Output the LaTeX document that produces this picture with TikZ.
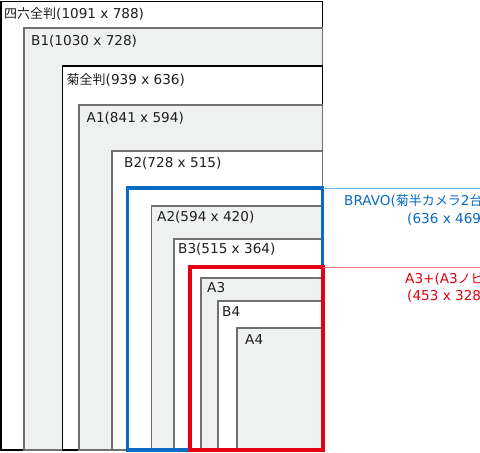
\documentclass[tikz,border=0pt]{standalone}
\usepackage{fontspec}
\setmainfont{DejaVu Sans}
\newfontfamily\jp{Noto Sans CJK JP}
\begin{document}
\begin{tikzpicture}[x=1pt,y=-1pt,
  grayfill/.style={fill=paperg,draw=edgeg,line width=1.8pt},
  whitefill/.style={fill=white,draw=edgeg,line width=1.8pt},
  blackbox/.style={fill=white,draw=black,line width=1.8pt},
  lbl/.style={anchor=west,inner sep=0pt,font=\fontsize{13.6}{15}\selectfont,text=black!88},
  rlbl/.style={anchor=west,inner sep=0pt,font=\fontsize{13.6}{15}\selectfont}]
\definecolor{paperg}{HTML}{EFF0F0}
\definecolor{edgeg}{HTML}{707070}
\definecolor{bravoblue}{HTML}{0A6BC4}
\definecolor{lightblue}{HTML}{6FB0E6}
\definecolor{a3red}{HTML}{E60012}
\definecolor{lightred}{HTML}{F07080}
\useasboundingbox (0,0) rectangle (480,453);
\clip (0,0) rectangle (480,453);
\fill[white] (0,0) rectangle (480,453);
% paper rectangles
\draw[blackbox]  (0.9,1.5)  rectangle (322.5,450);
\draw[grayfill]  (24,28)    rectangle (322.5,450);
\draw[blackbox]  (62.5,66)  rectangle (322.5,450);
\draw[grayfill]  (79,105)   rectangle (322.5,450);
\draw[whitefill] (112,151)  rectangle (322.5,450);
\draw[grayfill]  (151.5,206) rectangle (322.5,450);
\draw[whitefill] (174,239)  rectangle (322.5,450);
\draw[grayfill]  (201,278)  rectangle (322.5,450);
\draw[whitefill] (218,301)  rectangle (322.5,450);
\draw[grayfill]  (237,328)  rectangle (322.5,450);
% labels
\node[lbl] (l46)  at (4,13.8)    {{\jp\fontsize{13}{15}\selectfont 四六全判}(1091 x 788)};
\node[lbl] (lb1)  at (31,41.5) {B1(1030 x 728)};
\node[lbl] (lkiku) at (66.5,80)  {{\jp\fontsize{13}{15}\selectfont 菊全判}(939 x 636)};
\node[lbl] (la1)  at (86.5,118)  {A1(841 x 594)};
\node[lbl] (lb2)  at (124,163) {B2(728 x 515)};
\node[lbl] (la2)  at (157,217) {A2(594 x 420)};
\node[lbl] (lb3)  at (178,249) {B3(515 x 364)};
\node[lbl] (la3)  at (207,288) {A3};
\node[lbl] (lb4)  at (222,312) {B4};
\node[lbl] (la4)  at (245,340) {A4};
% highlighted frames
\coordinate (bravoNE) at (322.5,188);
\coordinate (bravoEnd) at (480,188);
\coordinate (redNE) at (322.5,267);
\coordinate (redEnd) at (480,267);
\draw[draw=bravoblue,line width=3.5pt] (127.5,188) rectangle (322.5,450);
\draw[draw=lightblue,line width=1pt] (bravoNE) -- (bravoEnd);
\draw[draw=a3red,line width=4pt] (190,267) rectangle (322.5,450);
\draw[draw=lightred,line width=1pt] (redNE) -- (redEnd);
\node[rlbl,text=bravoblue] (bravo1) at (344,201) {BRAVO({\jp\fontsize{13}{15}\selectfont 菊半カメラ}2{\jp\fontsize{13}{15}\selectfont 台})};
\node[rlbl,text=bravoblue] (bravo2) at (407,219) {(636 x 469)};
\node[rlbl,text=a3red] (red1) at (405,279) {A3+(A3{\jp\fontsize{13}{15}\selectfont ノビ})};
\node[rlbl,text=a3red] (red2) at (407,296) {(453 x 328)};
\end{tikzpicture}
\end{document}
